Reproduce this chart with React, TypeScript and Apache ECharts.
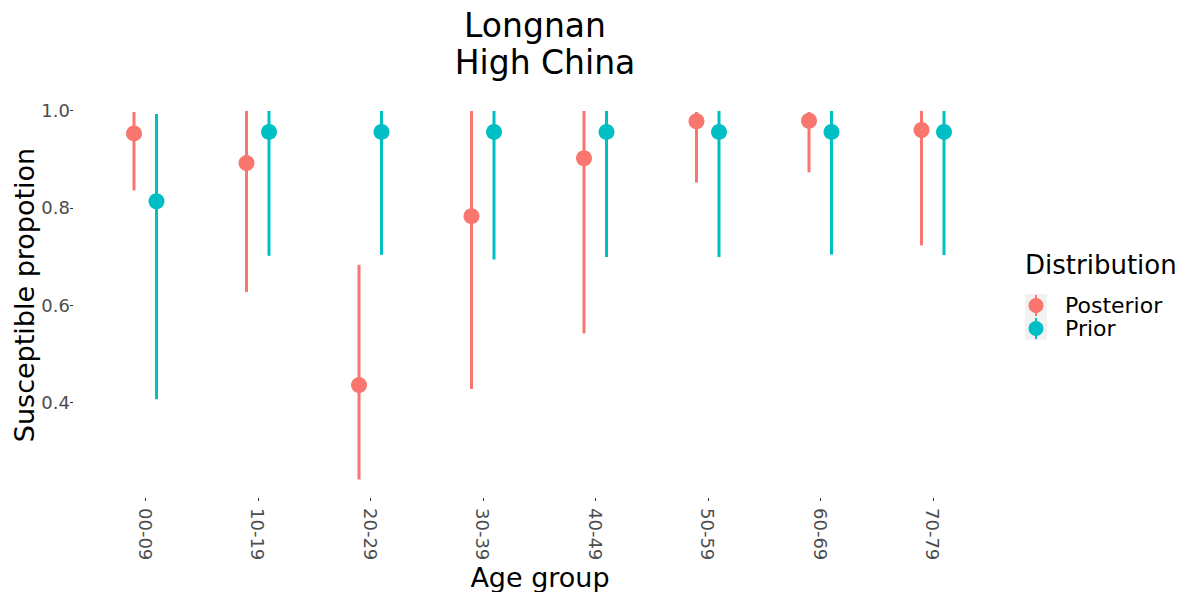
import React, { useEffect, useRef } from "react";
import * as echarts from "echarts";

const ageGroups = ["00-09", "10-19", "20-29", "30-39", "40-49", "50-59", "60-69", "70-79"];
const posteriorMid = [0.953, 0.892, 0.436, 0.783, 0.902, 0.978, 0.979, 0.96];
const posteriorLow = [0.836, 0.627, 0.242, 0.428, 0.542, 0.852, 0.873, 0.723];
const posteriorHigh = [0.997, 0.999, 0.683, 0.999, 0.999, 0.997, 0.997, 0.999];
const priorMid = [0.8135, 0.956, 0.956, 0.956, 0.956, 0.956, 0.956, 0.956];
const priorLow = [0.407, 0.7015, 0.7035, 0.694, 0.699, 0.699, 0.704, 0.703];
const priorHigh = [0.993, 0.999, 0.999, 0.999, 0.999, 0.999, 0.999, 0.999];
const yTicks = [0.4, 0.6, 0.8, 1.0];
const seriesNames = ["Posterior", "Prior"];
const seriesColors = ["#F8766D", "#00BFC4"];

const FONT = "DejaVu Sans";

function makeRender(offsetFrac: number, color: string) {
  return (params: any, api: any) => {
    const x = api.value(0);
    const lo = api.coord([x, api.value(1)]);
    const mid = api.coord([x, api.value(2)]);
    const hi = api.coord([x, api.value(3)]);
    const band = api.size([1, 0])[0];
    const dx = band * offsetFrac;
    return {
      type: "group",
      children: [
        {
          type: "line",
          shape: { x1: lo[0] + dx, y1: lo[1], x2: hi[0] + dx, y2: hi[1] },
          style: { stroke: color, lineWidth: 3 },
        },
        {
          type: "circle",
          shape: { cx: mid[0] + dx, cy: mid[1], r: 8 },
          style: { fill: color },
        },
      ],
    };
  };
}

export default function App() {
  const ref = useRef<HTMLDivElement>(null);
  useEffect(() => {
    if (!ref.current) return;
    const chart = echarts.init(ref.current, undefined, { renderer: "svg" });
    const postData = ageGroups.map((_, i) => [i, posteriorLow[i], posteriorMid[i], posteriorHigh[i]]);
    const priorData = ageGroups.map((_, i) => [i, priorLow[i], priorMid[i], priorHigh[i]]);

    const legendItems: any[] = [];
    seriesNames.forEach((name, i) => {
      const top = 294 + i * 23;
      legendItems.push(
        { type: "rect", shape: { x: 1025, y: top, width: 22, height: 23 }, style: { fill: "#F2F2F2" } },
        { type: "line", shape: { x1: 1036, y1: top + 1, x2: 1036, y2: top + 22 }, style: { stroke: seriesColors[i], lineWidth: 2 } },
        { type: "circle", shape: { cx: 1036, cy: top + 11.5, r: 7.5 }, style: { fill: seriesColors[i] } },
        {
          type: "text",
          x: 1065,
          y: top + 11.5,
          style: { text: name, font: `22px '${FONT}'`, fill: "#000", textAlign: "left", textVerticalAlign: "middle" },
        }
      );
    });

    chart.setOption({
      animation: false,
      backgroundColor: "#ffffff",
      grid: { left: 89, width: 900, top: 92, height: 406 },
      xAxis: {
        type: "category",
        data: ageGroups,
        boundaryGap: true,
        axisLine: { show: false },
        axisTick: { show: true, alignWithLabel: true, length: 3, lineStyle: { color: "#333333", width: 1 } },
        axisLabel: { rotate: -90, margin: 10, color: "#4D4D4D", fontSize: 18, fontFamily: FONT },
        splitLine: { show: false },
      },
      yAxis: {
        type: "value",
        min: 0.204,
        max: 1.038,
        offset: 16,
        axisLine: { show: false },
        axisTick: { show: true, length: 3, customValues: yTicks, lineStyle: { color: "#333333", width: 1 } },
        axisLabel: {
          customValues: yTicks,
          formatter: (v: number) => v.toFixed(1),
          color: "#4D4D4D",
          fontSize: 18,
          fontFamily: FONT,
          margin: 3,
        },
        splitLine: { show: false },
      },
      series: [
        { type: "custom", name: seriesNames[0], data: postData, encode: { x: 0, y: [1, 2, 3] }, renderItem: makeRender(-0.1, seriesColors[0]) },
        { type: "custom", name: seriesNames[1], data: priorData, encode: { x: 0, y: [1, 2, 3] }, renderItem: makeRender(0.1, seriesColors[1]) },
      ],
      graphic: [
        { type: "text", x: 535, y: 25, style: { text: "Longnan", font: `33px '${FONT}'`, fill: "#000", textAlign: "center", textVerticalAlign: "middle" } },
        { type: "text", x: 545, y: 62, style: { text: "High China", font: `33px '${FONT}'`, fill: "#000", textAlign: "center", textVerticalAlign: "middle" } },
        { type: "text", x: 540, y: 577, style: { text: "Age group", font: `27px '${FONT}'`, fill: "#000", textAlign: "center", textVerticalAlign: "middle" } },
        {
          type: "text",
          x: 24,
          y: 295,
          rotation: Math.PI / 2,
          style: { text: "Susceptible propotion", font: `27px '${FONT}'`, fill: "#000", textAlign: "center", textVerticalAlign: "middle" },
        },
        { type: "text", x: 1025, y: 265, style: { text: "Distribution", font: `26px '${FONT}'`, fill: "#000", textAlign: "left", textVerticalAlign: "middle" } },
        ...legendItems,
      ],
    });
    return () => chart.dispose();
  }, []);
  return <div ref={ref} style={{ position: "fixed", left: 0, top: 0, width: 1184, height: 592 }} />;
}
